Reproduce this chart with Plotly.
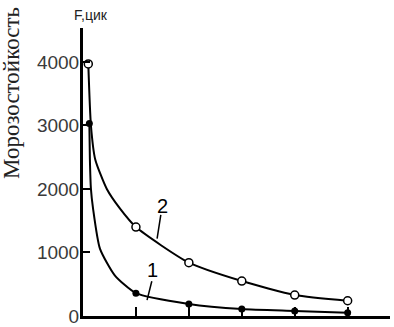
import plotly.graph_objects as go

# Curve 2 (open circles)
c2_line_x = [0.1, 0.15, 0.23, 0.45, 0.7, 1, 2, 3, 4, 5]
c2_line_y = [3970, 3000, 2470, 2000, 1690, 1400, 840, 550, 330, 240]
c2_pts_x = [0.1, 1, 2, 3, 4, 5]
c2_pts_y = [3970, 1400, 840, 550, 330, 240]

# Curve 1 (filled circles)
c1_line_x = [0.12, 0.13, 0.15, 0.19, 0.32, 0.6, 1, 2, 3, 4, 5]
c1_line_y = [3030, 2470, 2000, 1690, 1060, 640, 360, 190, 110, 80, 50]
c1_pts_x = [0.12, 1, 2, 3, 4, 5]
c1_pts_y = [3030, 360, 190, 110, 80, 50]

y_ticks = [0, 1000, 2000, 3000, 4000]
x_ticks = [1, 2, 3, 4, 5]

fig = go.Figure()
fig.add_trace(go.Scatter(x=c2_line_x, y=c2_line_y, mode="lines", line=dict(color="black", width=2, shape="spline", smoothing=0.6), hoverinfo="skip"))
fig.add_trace(go.Scatter(x=c1_line_x, y=c1_line_y, mode="lines", line=dict(color="black", width=2, shape="spline", smoothing=0.6), hoverinfo="skip"))
fig.add_trace(go.Scatter(x=c2_pts_x, y=c2_pts_y, mode="markers", marker=dict(symbol="circle", size=8, color="white", line=dict(color="black", width=1.5))))
fig.add_trace(go.Scatter(x=c1_pts_x, y=c1_pts_y, mode="markers", marker=dict(symbol="circle", size=7, color="black")))

fig.add_annotation(x=1.5, y=1734, text="2", showarrow=False, xref="x", yref="y", font=dict(family="Liberation Sans, Arial", size=20, color="black"))
fig.add_annotation(x=1.32, y=720, text="1", showarrow=False, xref="x", yref="y", font=dict(family="Liberation Sans, Arial", size=20, color="black"))
fig.add_shape(type="line", x0=1.47, y0=1594, x1=1.40, y1=1219, xref="x", yref="y", line=dict(color="black", width=1.5))
fig.add_shape(type="line", x0=1.30, y0=547, x1=1.21, y1=250, xref="x", yref="y", line=dict(color="black", width=1.5))

fig.add_annotation(x=0.15, y=1.0, xref="x", yref="paper", text="F,цик", showarrow=False, yanchor="bottom", xanchor="center", yshift=3,
                   font=dict(family="Liberation Sans, Arial", size=14, color="#222"))
fig.add_annotation(x=(11 - 83) / 307, y=(316 - 93) / 288, xref="paper", yref="paper", xanchor="center", yanchor="middle",
                   text="Морозостойкость", showarrow=False, textangle=-90,
                   font=dict(family="Liberation Serif, Times New Roman", size=23, color="#222"))

fig.update_layout(
    width=394, height=327,
    margin=dict(l=83, r=4, t=28, b=11, autoexpand=False),
    paper_bgcolor="white", plot_bgcolor="white",
    showlegend=False,
    xaxis=dict(range=[0, 5.8], tickvals=x_ticks, ticktext=[""] * 5, ticks="inside", ticklen=9, tickwidth=2, tickcolor="black",
               showgrid=False, zeroline=False, showline=True, linecolor="black", linewidth=3, automargin=False),
    yaxis=dict(range=[0, 4535], tickvals=y_ticks, ticks="inside", ticklen=7, tickwidth=2, tickcolor="black",
               showgrid=False, zeroline=False, showline=True, linecolor="black", linewidth=3, automargin=False,
               ticklabeloverflow="allow", ticklabelstandoff=-3,
               tickfont=dict(family="Liberation Sans, Arial", size=19, color="#3a3a3a")),
)

fig.write_html("out.html", config={"displayModeBar": False},
               post_script="document.body.style.margin='0';document.body.style.overflow='hidden';")
